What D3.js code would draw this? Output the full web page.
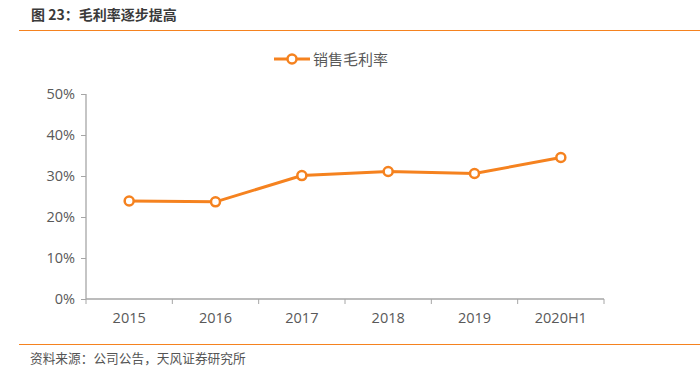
<!DOCTYPE html>
<html>
<head>
<meta charset="utf-8">
<script src="https://cdn.jsdelivr.net/npm/d3@7"></script>
<style>
  body { margin: 0; background: #fff; }
  text { font-family: "Microsoft YaHei", "Noto Sans CJK SC", sans-serif; }
</style>
</head>
<body>
<div id="chart"></div>
<script>
// data
var categories = ["2015", "2016", "2017", "2018", "2019", "2020H1"];
var grossMargin = [0.239, 0.237, 0.301, 0.311, 0.306, 0.345];
var yTicks = [0, 0.1, 0.2, 0.3, 0.4, 0.5];
var seriesName = "销售毛利率";

var W = 700, H = 377;
var orange = "#F5821F";
var margin = {top: 94, right: 96, bottom: 78, left: 86},
    width = W - margin.left - margin.right,
    height = H - margin.top - margin.bottom;

var svg = d3.select("#chart")
  .append("svg")
    .attr("width", W)
    .attr("height", H);

// header + footer
svg.append("text")
  .attr("x", 31).attr("y", 20)
  .attr("font-size", "14px")
  .attr("font-weight", 700)
  .attr("fill", "#3a3a3a")
  .text("图 23：毛利率逐步提高");
svg.append("line")
  .attr("x1", 19).attr("x2", W).attr("y1", 30.5).attr("y2", 30.5)
  .attr("stroke", orange).attr("stroke-width", 1);
svg.append("line")
  .attr("x1", 19).attr("x2", W).attr("y1", 344.5).attr("y2", 344.5)
  .attr("stroke", orange).attr("stroke-width", 1);
svg.append("text")
  .attr("x", 30).attr("y", 363)
  .attr("font-size", "12.7px")
  .attr("fill", "#555")
  .text("资料来源：公司公告，天风证券研究所");

var g = svg.append("g")
  .attr("transform", "translate(" + margin.left + "," + margin.top + ")");

var x = d3.scaleBand()
  .domain(categories)
  .range([0, width]);
var y = d3.scaleLinear()
  .domain([0, 0.5])
  .range([height, 0]);

// y axis
var yAxis = g.append("g")
  .call(d3.axisLeft(y).tickValues(yTicks).tickFormat(d3.format(".0%")).tickSize(5).tickPadding(6));
// x axis
var xAxis = g.append("g")
  .attr("transform", "translate(0," + height + ")")
  .call(d3.axisBottom(x).tickSize(0).tickPadding(14));
// category boundary ticks
g.append("g")
  .selectAll("line")
  .data(d3.range(categories.length + 1))
  .enter().append("line")
    .attr("x1", function(i) { return x.step() * i; })
    .attr("x2", function(i) { return x.step() * i; })
    .attr("y1", height).attr("y2", height + 5)
    .attr("stroke", "#a6a6a6");

[yAxis, xAxis].forEach(function(a) {
  a.select(".domain").attr("stroke", "#a6a6a6").attr("stroke-width", 1.3);
  a.selectAll(".tick line").attr("stroke", "#a6a6a6");
  a.selectAll(".tick text")
    .attr("fill", "#595959")
    .attr("font-size", "14.5px")
    .style("font-family", "\"Open Sans\", sans-serif");
});
yAxis.select(".domain").attr("d", "M0,0V" + height);
xAxis.select(".domain").attr("d", "M0,0H" + width);

// line
var line = d3.line()
  .x(function(d, i) { return x(categories[i]) + x.bandwidth() / 2; })
  .y(function(d) { return y(d); });

g.append("path")
  .datum(grossMargin)
  .attr("fill", "none")
  .attr("stroke", orange)
  .attr("stroke-width", 3)
  .attr("d", line);

g.selectAll("circle.pt")
  .data(grossMargin)
  .enter().append("circle")
    .attr("class", "pt")
    .attr("cx", function(d, i) { return x(categories[i]) + x.bandwidth() / 2; })
    .attr("cy", function(d) { return y(d); })
    .attr("r", 4.5)
    .attr("fill", "#fff")
    .attr("stroke", orange)
    .attr("stroke-width", 2.5);

// legend
var lg = svg.append("g").attr("transform", "translate(274,59)");
lg.append("line")
  .attr("x1", 0).attr("x2", 36).attr("y1", 0).attr("y2", 0)
  .attr("stroke", orange).attr("stroke-width", 3);
lg.append("circle")
  .attr("cx", 18).attr("cy", 0).attr("r", 4.5)
  .attr("fill", "#fff").attr("stroke", orange).attr("stroke-width", 2.5);
lg.append("text")
  .attr("x", 39).attr("y", 5.5)
  .attr("font-size", "15px")
  .attr("fill", "#595959")
  .text(seriesName);
</script>
</body>
</html>
